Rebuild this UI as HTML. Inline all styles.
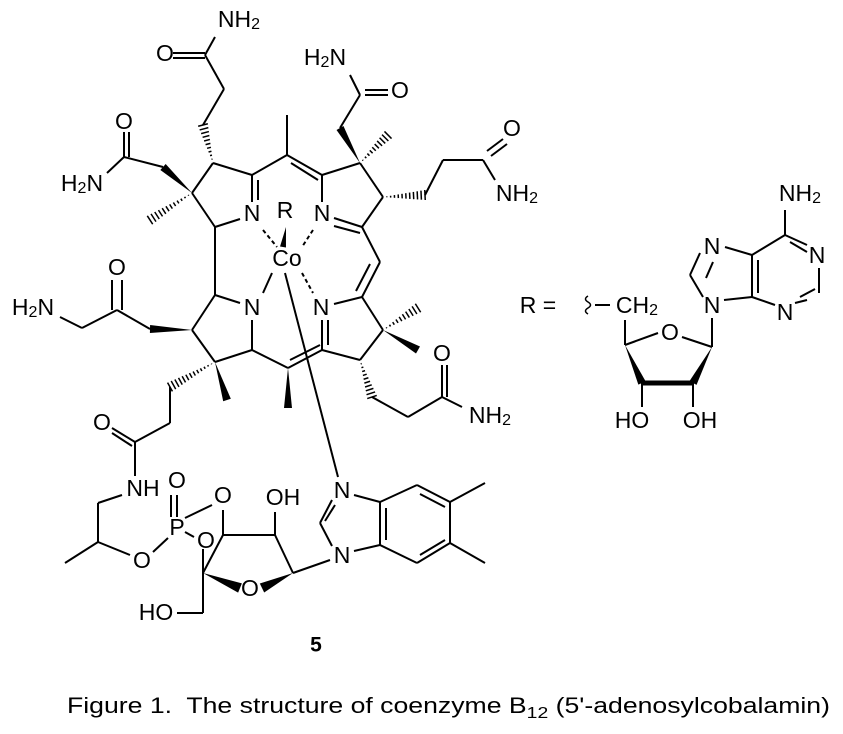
<!DOCTYPE html>
<html><head><meta charset="utf-8"><style>
html,body{margin:0;padding:0;background:#fff;}
svg{display:block}
text{font-family:"Liberation Sans",Arial,sans-serif;font-size:23px;fill:#000}
</style></head><body>
<svg id="s" width="843" height="734" viewBox="0 0 843 734" xmlns="http://www.w3.org/2000/svg">
<g id="b" stroke="#000" stroke-width="2" fill="none" stroke-linecap="butt"></g>
<g id="w" fill="#000"></g>
<g text-anchor="middle" dominant-baseline="central">
<text x="239" y="19">NH<tspan font-size="16" dy="5">2</tspan></text>
<text x="165" y="53">O</text>
<text x="124" y="121">O</text>
<text x="82" y="183">H<tspan font-size="16" dy="5">2</tspan><tspan dy="-5">N</tspan></text>
<text x="325" y="57">H<tspan font-size="16" dy="5">2</tspan><tspan dy="-5">N</tspan></text>
<text x="400" y="90">O</text>
<text x="512" y="128">O</text>
<text x="517" y="193">NH<tspan font-size="16" dy="5">2</tspan></text>
<text x="252" y="213">N</text>
<text x="322" y="213">N</text>
<text x="285" y="210">R</text>
<text x="287" y="258">Co</text>
<text x="252" y="307">N</text>
<text x="321" y="307">N</text>
<text x="117" y="267">O</text>
<text x="33" y="307">H<tspan font-size="16" dy="5">2</tspan><tspan dy="-5">N</tspan></text>
<text x="442" y="353">O</text>
<text x="490" y="415">NH<tspan font-size="16" dy="5">2</tspan></text>
<text x="102" y="422">O</text>
<text x="143" y="488">NH</text>
<text x="177" y="480">O</text>
<text x="177" y="527">P</text>
<text x="223" y="495">O</text>
<text x="206" y="540">O</text>
<text x="142" y="560">O</text>
<text x="283" y="497">OH</text>
<text x="250" y="588">O</text>
<text x="156" y="612">HO</text>
<text x="342" y="490">N</text>
<text x="342" y="555">N</text>
<text x="538" y="305">R =</text>
<text x="637" y="305">CH<tspan font-size="16" dy="5">2</tspan></text>
<text x="670" y="332">O</text>
<text x="712" y="305">N</text>
<text x="712" y="246">N</text>
<text x="817" y="255">N</text>
<text x="785" y="312">N</text>
<text x="800" y="193">NH<tspan font-size="16" dy="5">2</tspan></text>
<text x="632" y="420">HO</text>
<text x="700" y="420">OH</text>
<text x="316" y="645" font-weight="bold" style="font-size:21px">5</text>
</g>
<text x="67" y="713" style="font-size:22px" textLength="763" lengthAdjust="spacingAndGlyphs">Figure 1.&#160; The structure of coenzyme B<tspan font-size="16" dy="5">12</tspan><tspan dy="-5"> (5'-adenosylcobalamin)</tspan></text>
<path d="M588 296 q-5 3 0 6 q5 3 0 6 q-5 3 0 6" stroke="#000" stroke-width="1.5" fill="none"/>
</svg>
<script>
var L=[
[205,55,215,37],[205,55,224,89],[224,89,203,125],
[213,163,252,175],[252,175,252,202],[215,227,240,219],[215,227,192,193],[192,193,213,163],
[163,167,124,157],[124,157,107,173],
[252,175,287,155],[287,155,287,115],[287,155,322,175],[322,175,322,202],[322,175,360,163],
[340,128,360,95],[360,95,350,75],[360,163,383,197],[383,197,362,227],[334,218,362,227],
[425,195,443,160],[443,160,483,160],[483,160,495,180],
[362,227,380,262],[380,262,362,297],[362,297,334,304],[362,297,383,330],[383,330,360,360],[360,360,322,350],[322,350,322,320],
[372,397,408,417],[408,417,442,397],[442,397,462,407],
[322,350,288,368],[288,368,252,350],[252,350,252,320],[252,350,215,362],[215,362,192,330],
[215,227,215,295],[215,295,240,303],[215,295,192,330],
[150,329,117,310],[117,310,82,328],[82,328,60,317],
[170,387,170,423],[170,423,135,442],[135,442,135,476],[122,495,98,503],[98,503,98,542],[98,542,65,563],[98,542,130,555],
[153,552,168,538],[185,518,212,505],[185,532,194,537],
[223,535,223,510],[223,535,275,535],[275,535,275,512],[275,535,293,573],[293,573,330,560],[203,549,203,573],[203,573,223,535],[203,573,203,613],[203,613,177,613],
[332,500,320,523],[320,523,332,546],[354,495,380,502],[354,551,380,545],[380,502,380,545],
[380,502,417,485],[417,485,450,502],[450,502,450,543],[450,543,417,563],[417,563,380,545],[450,502,485,483],[450,543,485,563],
[285,273,338,477],[272,273,263,293],
[595,305,610,305],[625,320,625,345],[625,345,658,333],[682,337,712,347],[712,347,712,318],
[642,383,642,407],[693,383,693,407],
[724,300,752,297],[752,297,752,255],[752,255,725,247],[700,253,690,275],[690,275,703,297],[752,255,785,235],[785,235,785,210],[785,235,807,245],[819,268,819,293],[807,300,795,303],[775,305,752,297],
[173,53,205,53],[173,58,205,58],[124,132,124,157],[129,132,129,157],[258,180,258,200],
[291,163,318,180],[365,95,388,95],[365,90,388,90],[487,151,503,139],[491,156,507,144],
[334,226,360,233],[370,264,356,291],[328,320,328,345],[442,365,442,397],[447,365,447,397],
[290,360,320,345],[122,280,122,310],[112,280,112,310],[112,428,135,442],[112,433,132,446],
[171,495,171,517],[177,495,177,517],[325,521,335,505],[386,508,386,540],[420,494,445,507],[420,555,445,540],
[758,260,758,293],[706,278,713,262],[790,242,807,252],[800,297,815,289]
];
var g=document.getElementById('b'),ns='http://www.w3.org/2000/svg';
L.forEach(function(a){var l=document.createElementNS(ns,'line');l.setAttribute('x1',a[0]);l.setAttribute('y1',a[1]);l.setAttribute('x2',a[2]);l.setAttribute('y2',a[3]);g.appendChild(l);});
[[263,230,277,247],[313,230,302,247],[302,273,313,293]].forEach(function(a){var l=document.createElementNS(ns,'line');l.setAttribute('x1',a[0]);l.setAttribute('y1',a[1]);l.setAttribute('x2',a[2]);l.setAttribute('y2',a[3]);l.setAttribute('stroke-dasharray','4 3');g.appendChild(l);});
var wg=document.getElementById('w');
function wedge(x1,y1,x2,y2,w){var dx=x2-x1,dy=y2-y1,d=Math.hypot(dx,dy),px=-dy/d*w,py=dx/d*w;var p=document.createElementNS(ns,'polygon');p.setAttribute('points',x1+','+y1+' '+(x2+px)+','+(y2+py)+' '+(x2-px)+','+(y2-py));wg.appendChild(p);}
function hash(x1,y1,x2,y2,w){var dx=x2-x1,dy=y2-y1,d=Math.hypot(dx,dy),n=Math.round(d/4);for(var i=1;i<=n;i++){var t=i/n,cx=x1+dx*t,cy=y1+dy*t,ww=w*t,px=-dy/d*ww,py=dx/d*ww;var l=document.createElementNS(ns,'line');l.setAttribute('x1',cx+px);l.setAttribute('y1',cy+py);l.setAttribute('x2',cx-px);l.setAttribute('y2',cy-py);l.setAttribute('stroke-width','1.5');g.appendChild(l);}}
function bold(x1,y1,x2,y2,w){var l=document.createElementNS(ns,'line');l.setAttribute('x1',x1);l.setAttribute('y1',y1);l.setAttribute('x2',x2);l.setAttribute('y2',y2);l.setAttribute('stroke-width',w);g.appendChild(l);}
hash(213,163,203,125,5);wedge(192,193,163,167,4);hash(192,193,150,220,5);
wedge(360,163,340,128,4);hash(360,163,388,135,5);hash(383,197,425,195,5);
hash(383,330,418,308,5);wedge(383,330,418,350,4);hash(360,360,372,397,5);
wedge(288,368,288,408,4);wedge(215,362,227,400,4);hash(215,362,170,387,5);
wedge(192,330,150,329,4);wedge(286,227,283,247,3);
wedge(203,573,240,588,5);wedge(293,573,262,588,5);
wedge(625,345,642,383,4);bold(642,383,693,383,5);wedge(712,347,693,383,4);
</script>
</body></html>
